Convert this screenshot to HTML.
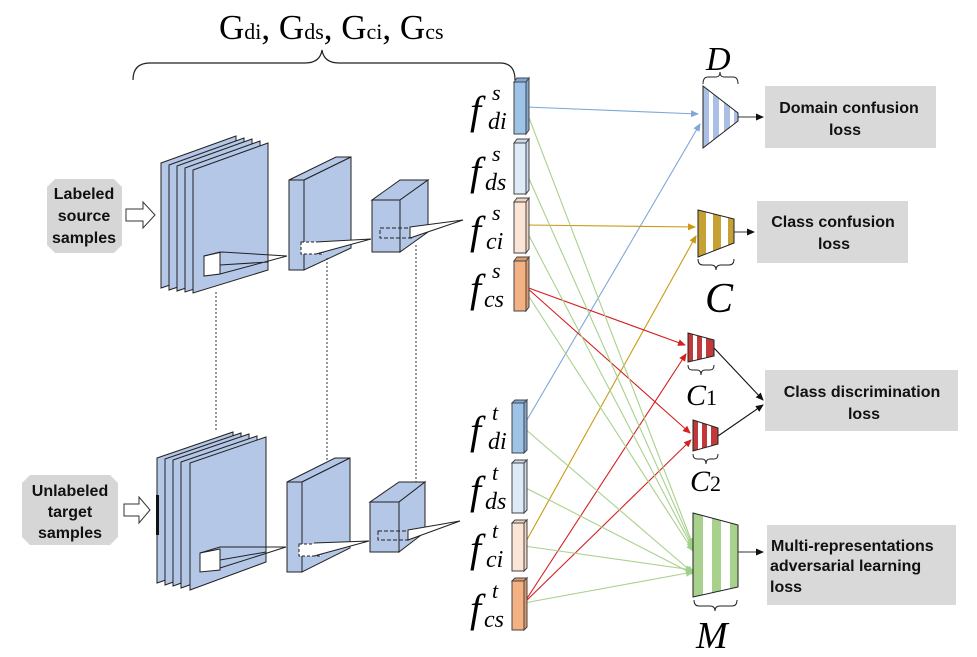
<!DOCTYPE html>
<html><head><meta charset="utf-8"><style>
html,body{margin:0;padding:0;background:#fff;}
svg{display:block;}
.s{font-family:"Liberation Serif",serif;}
.b{font-family:"Liberation Sans",sans-serif;font-weight:bold;font-size:16px;fill:#111;}
</style></head><body>
<svg width="977" height="657" viewBox="0 0 977 657" xmlns="http://www.w3.org/2000/svg">
<defs>
<marker id="ak" markerWidth="8" markerHeight="8" refX="7" refY="4" orient="auto" markerUnits="userSpaceOnUse"><path d="M0,0.5 L8,4 L0,7.5z" fill="#111"/></marker>
<marker id="ab" markerWidth="8" markerHeight="8" refX="7" refY="4" orient="auto" markerUnits="userSpaceOnUse"><path d="M0,0.5 L8,4 L0,7.5z" fill="#7fa7d8"/></marker>
<marker id="ag" markerWidth="8" markerHeight="8" refX="7" refY="4" orient="auto" markerUnits="userSpaceOnUse"><path d="M0,0.5 L8,4 L0,7.5z" fill="#c99a12"/></marker>
<marker id="ar" markerWidth="8" markerHeight="8" refX="7" refY="4" orient="auto" markerUnits="userSpaceOnUse"><path d="M0,0.5 L8,4 L0,7.5z" fill="#d42020"/></marker>
<marker id="am" markerWidth="8" markerHeight="8" refX="7" refY="4" orient="auto" markerUnits="userSpaceOnUse"><path d="M0,0.5 L8,4 L0,7.5z" fill="#9fd08a"/></marker>
<clipPath id="cD"><polygon points="703,86 738,113 738,121 703,148"/></clipPath>
<clipPath id="cC"><polygon points="698,210 734,219 734,243 698,257"/></clipPath>
<clipPath id="c1"><polygon points="688,333 714,340 714,356 688,362"/></clipPath>
<clipPath id="c2"><polygon points="693,420 718,428 718,444 693,451"/></clipPath>
<clipPath id="cM"><polygon points="693,513 738,525 738,587 693,597"/></clipPath>
</defs>

<!-- title -->
<text class="s" x="219" y="39" font-size="35">G<tspan font-size="22">di</tspan>, G<tspan font-size="22">ds</tspan>, G<tspan font-size="22">ci</tspan>, G<tspan font-size="22">cs</tspan></text>
<path d="M133,80 Q133,63 150,63 L305,63 Q320,63 322,50 Q324,63 339,63 L500,63 Q515,63 515,80" fill="none" stroke="#222" stroke-width="1.2"/>

<!-- input boxes -->
<polygon points="55,179 114,179 122,187 122,245 114,253 55,253 47,245 47,187" fill="#d6d6d6"/>
<text class="b" x="84" y="199" text-anchor="middle">Labeled</text>
<text class="b" x="84" y="221" text-anchor="middle">source</text>
<text class="b" x="84" y="243" text-anchor="middle">samples</text>
<polygon points="126,209 143,209 143,202 155,215 143,228 143,221 126,221" fill="#fff" stroke="#333"/>
<polygon points="30,475 110,475 118,483 118,537 110,545 30,545 22,537 22,483" fill="#d6d6d6"/>
<text class="b" x="70" y="496" text-anchor="middle">Unlabeled</text>
<text class="b" x="70" y="517" text-anchor="middle">target</text>
<text class="b" x="70" y="538" text-anchor="middle">samples</text>
<polygon points="124,504 139,504 139,497 150,510 139,523 139,516 124,516" fill="#fff" stroke="#333"/>

<g fill="#b4c7e7" stroke="#222" stroke-width="1">
<polygon points="161,163 236,136 236,263 161,288"/>
<polygon points="169,165 244,138 244,265 169,290"/>
<polygon points="177,166 252,139 252,266 177,291"/>
<polygon points="185,168 260,141 260,268 185,292"/>
<polygon points="193,170 268,143 268,270 193,293"/>
<polygon points="289,180 336,157 351,157 304,180"/>
<polygon points="304,180 351,157 351,248 304,270"/>
<rect x="289" y="180" width="15" height="90"/>
<polygon points="372,200 400,180 428,180 400,200"/>
<polygon points="400,200 428,180 428,232 400,252"/>
<rect x="372" y="200" width="28" height="52"/>
<polygon points="157,458 233,432 233,557 157,583"/>
<polygon points="165,459 241,433 241,558 165,585"/>
<polygon points="173,460 249,434 249,559 173,586"/>
<polygon points="181,462 257,436 257,561 181,588"/>
<polygon points="190,463 266,437 266,562 190,590"/>
<polygon points="287,482 335,458 350,458 302,482"/>
<polygon points="302,482 350,458 350,548 302,572"/>
<rect x="287" y="482" width="15" height="90"/>
<polygon points="370,502 399,482 425,482 399,502"/>
<polygon points="399,502 425,482 425,532 399,552"/>
<rect x="370" y="502" width="29" height="50"/>
</g>
<rect x="156" y="495" width="3" height="40" fill="#111"/>

<g stroke="#222" stroke-width="1" fill="none">
<polygon points="204,256 220,252 220,274 204,276" fill="#fff"/>
<path d="M204,256 L204,276" stroke-dasharray="3,2"/>
<path d="M204,256 L222,252 L287,256 M220,274 L287,256 M220,265 L268,262" />
<rect x="301" y="242" width="22" height="12" fill="#fff" stroke-dasharray="3,2"/>
<path d="M316,242 L371,239 L316,254" fill="#fff"/>
<rect x="380" y="228" width="32" height="10" stroke-dasharray="4,2"/>
<path d="M410,227 L463,220 L410,238 Z" fill="#fff"/>
<polygon points="200,553 220,549 220,570 200,572" fill="#fff"/>
<path d="M200,553 L200,572" stroke-dasharray="3,2"/>
<path d="M200,553 L220,547 L286,547 M220,568 L286,547 M220,560 L266,552"/>
<rect x="299" y="544" width="22" height="12" fill="#fff" stroke-dasharray="3,2"/>
<path d="M314,543 L369,541 L314,556" fill="#fff"/>
<rect x="378" y="531" width="32" height="9" stroke-dasharray="4,2"/>
<path d="M408,530 L460,521 L408,540 Z" fill="#fff"/>
</g>
<g stroke="#333" stroke-width="1" stroke-dasharray="2,2">
<path d="M216,292 L216,432"/><path d="M327,258 L327,460"/><path d="M416,245 L416,482"/>
</g>

<g fill="none" stroke-width="1.1">
<path d="M526,107 L698,114" stroke="#7fa7d8" marker-end="url(#ab)"/>
<path d="M524,425 L700,124" stroke="#7fa7d8" marker-end="url(#ab)"/>
<path d="M526,225 L695,227" stroke="#c99a12" marker-end="url(#ag)"/>
<path d="M524,545 L696,236" stroke="#c99a12" marker-end="url(#ag)"/>
<path d="M526,287 L685,345" stroke="#d42020" marker-end="url(#ar)"/>
<path d="M526,287 L690,433" stroke="#d42020" marker-end="url(#ar)"/>
<path d="M524,603 L686,354" stroke="#d42020" marker-end="url(#ar)"/>
<path d="M524,603 L691,440" stroke="#d42020" marker-end="url(#ar)"/>
<g stroke="#a9d18e">
<path d="M526,110 L693,545" marker-end="url(#am)"/>
<path d="M526,172 L693,547" marker-end="url(#am)"/>
<path d="M526,230 L693,549" marker-end="url(#am)"/>
<path d="M526,292 L693,551" marker-end="url(#am)"/>
<path d="M524,428 L693,573" marker-end="url(#am)"/>
<path d="M524,487 L693,574" marker-end="url(#am)"/>
<path d="M524,546 L693,570" marker-end="url(#am)"/>
<path d="M524,603 L693,572" marker-end="url(#am)"/>
</g>
<path d="M738,117 L763,117" stroke="#333" marker-end="url(#ak)"/>
<path d="M734,232 L754,232" stroke="#333" marker-end="url(#ak)"/>
<path d="M714,348 L763,400" stroke="#111" marker-end="url(#ak)"/>
<path d="M718,436 L763,405" stroke="#111" marker-end="url(#ak)"/>
<path d="M738,552 L763,552" stroke="#333" marker-end="url(#ak)"/>
</g>

<g stroke="#444" stroke-width="1">
<polygon points="514,82 517,78 529,78 526,82" fill="#7fa7d8"/><polygon points="526,82 529,78 529,130 526,134" fill="#7fa7d8"/><rect x="514" y="82" width="12" height="52" fill="#9dc3e6"/>
<polygon points="514,143 517,139 529,139 526,143" fill="#c9d8ec"/><polygon points="526,143 529,139 529,190 526,194" fill="#c9d8ec"/><rect x="514" y="143" width="12" height="51" fill="#deebf7"/>
<polygon points="514,202 517,198 529,198 526,202" fill="#f0d4c0"/><polygon points="526,202 529,198 529,249 526,253" fill="#f0d4c0"/><rect x="514" y="202" width="12" height="51" fill="#fbe5d6"/>
<polygon points="514,261 517,257 529,257 526,261" fill="#e09a68"/><polygon points="526,261 529,257 529,307 526,311" fill="#e09a68"/><rect x="514" y="261" width="12" height="50" fill="#f4b183"/>
<polygon points="512,403 515,400 527,400 524,403" fill="#7fa7d8"/><polygon points="524,403 527,400 527,450 524,453" fill="#7fa7d8"/><rect x="512" y="403" width="12" height="50" fill="#9dc3e6"/>
<polygon points="512,463 515,460 527,460 524,463" fill="#c9d8ec"/><polygon points="524,463 527,460 527,510 524,513" fill="#c9d8ec"/><rect x="512" y="463" width="12" height="50" fill="#deebf7"/>
<polygon points="512,523 515,520 527,520 524,523" fill="#f0d4c0"/><polygon points="524,523 527,520 527,568 524,571" fill="#f0d4c0"/><rect x="512" y="523" width="12" height="48" fill="#fbe5d6"/>
<polygon points="512,581 515,578 527,578 524,581" fill="#e09a68"/><polygon points="524,581 527,578 527,627 524,630" fill="#e09a68"/><rect x="512" y="581" width="12" height="49" fill="#f4b183"/>
</g>
<g class="s" font-style="italic">
<text x="470" y="124" font-size="40">f</text><text x="492" y="100" font-size="22">s</text><text x="488" y="129" font-size="24">di</text>
<text x="470" y="185" font-size="40">f</text><text x="492" y="161" font-size="22">s</text><text x="485" y="190" font-size="24">ds</text>
<text x="470" y="244" font-size="40">f</text><text x="492" y="220" font-size="22">s</text><text x="486" y="249" font-size="24">ci</text>
<text x="470" y="302" font-size="40">f</text><text x="492" y="278" font-size="22">s</text><text x="484" y="307" font-size="24">cs</text>
<text x="470" y="444" font-size="40">f</text><text x="492" y="420" font-size="22">t</text><text x="488" y="449" font-size="24">di</text>
<text x="470" y="504" font-size="40">f</text><text x="492" y="480" font-size="22">t</text><text x="485" y="509" font-size="24">ds</text>
<text x="470" y="562" font-size="40">f</text><text x="492" y="538" font-size="22">t</text><text x="486" y="567" font-size="24">ci</text>
<text x="470" y="622" font-size="40">f</text><text x="492" y="598" font-size="22">t</text><text x="484" y="627" font-size="24">cs</text>
</g>

<g clip-path="url(#cD)"><rect x="703" y="80" width="40" height="75" fill="#fff"/><g fill="#a9c0e4"><rect x="703" y="80" width="6" height="75"/><rect x="713" y="80" width="6" height="75"/><rect x="724" y="80" width="6" height="75"/><rect x="734" y="80" width="6" height="75"/></g></g>
<polygon points="703,86 738,113 738,121 703,148" fill="none" stroke="#222"/>
<g clip-path="url(#cC)"><rect x="698" y="205" width="40" height="55" fill="#fff"/><g fill="#c6a236"><rect x="698" y="205" width="8" height="55"/><rect x="713" y="205" width="8" height="55"/><rect x="728" y="205" width="7" height="55"/></g></g>
<polygon points="698,210 734,219 734,243 698,257" fill="none" stroke="#222"/>
<g clip-path="url(#c1)"><rect x="688" y="330" width="30" height="35" fill="#fff"/><g fill="#c0393b"><rect x="688" y="330" width="5" height="35"/><rect x="697" y="330" width="5" height="35"/><rect x="706" y="330" width="9" height="35"/></g></g>
<polygon points="688,333 714,340 714,356 688,362" fill="none" stroke="#222"/>
<g clip-path="url(#c2)"><rect x="693" y="417" width="30" height="37" fill="#fff"/><g fill="#c0393b"><rect x="693" y="417" width="5" height="37"/><rect x="702" y="417" width="5" height="37"/><rect x="711" y="417" width="8" height="37"/></g></g>
<polygon points="693,420 718,428 718,444 693,451" fill="none" stroke="#222"/>
<g clip-path="url(#cM)"><rect x="693" y="510" width="50" height="90" fill="#fff"/><g fill="#a9d18e"><rect x="693" y="510" width="10" height="90"/><rect x="712" y="510" width="9" height="90"/><rect x="730" y="510" width="9" height="90"/></g></g>
<polygon points="693,513 738,525 738,587 693,597" fill="none" stroke="#222"/>

<g fill="none" stroke="#222" stroke-width="1">
<path d="M703,84 Q703,77 708,77 L716,77 Q720,77 720,72 Q720,77 724,77 L733,77 Q738,77 738,84"/>
<path d="M698,259 Q698,265 703,265 L711,265 Q716,265 716,270 Q716,265 721,265 L729,265 Q734,265 734,259"/>
<path d="M688,365 Q688,370 692,370 L697,370 Q701,370 701,375 Q701,370 705,370 L710,370 Q714,370 714,365"/>
<path d="M693,454 Q693,459 697,459 L702,459 Q706,459 706,464 Q706,459 710,459 L714,459 Q718,459 718,454"/>
<path d="M694,600 Q694,606 699,606 L710,606 Q715,606 715,611 Q715,606 720,606 L732,606 Q737,606 737,600"/>
</g>
<g class="s" font-style="italic">
<text x="706" y="70" font-size="34">D</text>
<text x="705" y="312" font-size="42">C</text>
<text x="686" y="405" font-size="30">C<tspan font-style="normal" font-size="22">1</tspan></text>
<text x="690" y="491" font-size="30">C<tspan font-style="normal" font-size="22">2</tspan></text>
<text x="696" y="648" font-size="38">M</text>
</g>

<rect x="765" y="86" width="171" height="62" fill="#d9d9d9"/>
<text class="b" x="849" y="113" text-anchor="middle">Domain confusion</text>
<text class="b" x="845" y="135" text-anchor="middle">loss</text>
<rect x="757" y="201" width="151" height="62" fill="#d9d9d9"/>
<text class="b" x="833" y="227" text-anchor="middle">Class confusion</text>
<text class="b" x="834" y="249" text-anchor="middle">loss</text>
<rect x="765" y="370" width="193" height="61" fill="#d9d9d9"/>
<text class="b" x="862" y="397" text-anchor="middle">Class discrimination</text>
<text class="b" x="864" y="419" text-anchor="middle">loss</text>
<rect x="767" y="525" width="189" height="80" fill="#d9d9d9"/>
<text class="b" x="771" y="551">Multi-representations</text>
<text class="b" x="770" y="571">adversarial learning</text>
<text class="b" x="770" y="592">loss</text>
</svg>
</body></html>
